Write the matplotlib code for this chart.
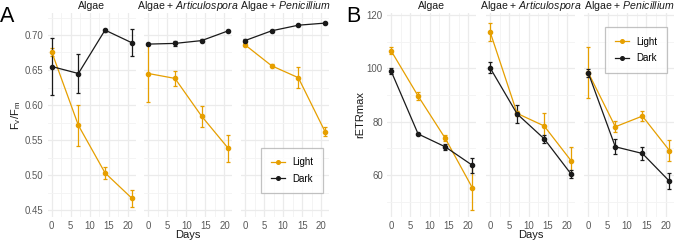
import numpy as np
import matplotlib
matplotlib.use("Agg")
import matplotlib.pyplot as plt
from matplotlib.lines import Line2D

plt.rcParams['font.family'] = ['Liberation Sans', 'DejaVu Sans']
plt.rcParams['mathtext.fontset'] = 'custom'
plt.rcParams['mathtext.rm'] = 'Liberation Sans'
plt.rcParams['mathtext.it'] = 'Liberation Sans:italic'

# data
days = [0, 7, 14, 21]
panels = ["Algae", "Algae + $\\it{Articulospora}$", "Algae + $\\it{Penicillium}$"]

# A: Fv/Fm  (mean, error) per treatment
fv_light = [[0.676, 0.571, 0.503, 0.467],
            [0.645, 0.638, 0.584, 0.538],
            [0.686, 0.656, 0.639, 0.562]]
fv_light_err = [[0.006, 0.029, 0.009, 0.012],
                [0.040, 0.011, 0.015, 0.019],
                [0.002, 0.002, 0.015, 0.007]]
fv_dark = [[0.655, 0.645, 0.707, 0.689],
           [0.687, 0.688, 0.692, 0.706],
           [0.692, 0.706, 0.714, 0.717]]
fv_dark_err = [[0.041, 0.028, 0.002, 0.019],
               [0.001, 0.003, 0.002, 0.001],
               [0.002, 0.001, 0.001, 0.001]]

# B: rETRmax
etr_light = [[106.6, 89.6, 73.8, 55.3],
             [113.7, 83.1, 78.4, 65.3],
             [98.4, 78.1, 82.1, 69.2]]
etr_light_err = [[1.4, 1.6, 1.2, 8.5],
                 [3.4, 1.0, 4.8, 5.3],
                 [9.7, 2.0, 1.8, 4.0]]
etr_dark = [[99.0, 75.4, 70.6, 63.7],
            [100.2, 82.9, 73.6, 60.3],
            [98.3, 70.6, 68.1, 57.7]]
etr_dark_err = [[1.2, 0.5, 1.2, 2.8],
                [2.0, 3.4, 1.5, 1.5],
                [1.5, 2.8, 2.4, 3.0]]

light_col = '#E69F00'
dark_col = '#1a1a1a'
W, H = 677, 241

fig = plt.figure(figsize=(W / 100, H / 100), dpi=100)


def px_axes(left, width, top=13.3, bottom=217):
    return fig.add_axes([left / W, 1 - bottom / H, width / W, (bottom - top) / H])


def draw_group(lefts, width, light, light_err, dark, dark_err, ylim, yticks, yminor, fmt, legend_kw):
    axes = []
    for i, left in enumerate(lefts):
        ax = px_axes(left, width)
        for sp in ax.spines.values():
            sp.set_visible(False)
        ax.set_xlim(-1.05, 22.05)
        ax.set_ylim(*ylim)
        ax.set_xticks([0, 5, 10, 15, 20])
        ax.set_xticks([2.5, 7.5, 12.5, 17.5], minor=True)
        ax.set_yticks(yticks)
        ax.set_yticks(yminor, minor=True)
        ax.grid(which='major', color='#ebebeb', lw=0.9)
        ax.grid(which='minor', color='#f3f3f3', lw=0.6)
        ax.set_axisbelow(True)
        ax.tick_params(which='both', length=0, labelsize=6.9, labelcolor='#595959', pad=3)
        if i == 0:
            ax.set_yticklabels([fmt.format(v) for v in yticks])
        else:
            ax.set_yticklabels([])
        ax.errorbar(days, light[i], yerr=light_err[i], color=light_col, lw=0.9, marker='o', ms=3.0,
                    capsize=1.6, capthick=0.9, elinewidth=0.9)
        ax.errorbar(days, dark[i], yerr=dark_err[i], color=dark_col, lw=0.9, marker='o', ms=3.0,
                    capsize=1.6, capthick=0.9, elinewidth=0.9)
        ax.set_title(panels[i], fontsize=7.6, color='#1a1a1a', pad=3)
        axes.append(ax)
    handles = [Line2D([], [], color=light_col, lw=0.9, marker='o', ms=2.6),
               Line2D([], [], color=dark_col, lw=0.9, marker='o', ms=2.6)]
    leg = axes[2].legend(handles, ['Light', 'Dark'], fontsize=7, frameon=True, fancybox=False,
                         edgecolor='#b3b3b3', handlelength=1.5, handletextpad=0.7, borderpad=1.0,
                         labelspacing=0.65, **legend_kw)
    leg.get_frame().set_linewidth(0.9)
    return axes


axA = draw_group([47.7, 144.3, 241.0], 88.0, fv_light, fv_light_err, fv_dark, fv_dark_err,
                 (0.44, 0.731), [0.45, 0.50, 0.55, 0.60, 0.65, 0.70],
                 [0.475, 0.525, 0.575, 0.625, 0.675, 0.725], '{:.2f}',
                 dict(loc='lower right', bbox_to_anchor=(0.985, 0.092)))
axB = draw_group([387.0, 486.0, 584.2], 89.3, etr_light, etr_light_err, etr_dark, etr_dark_err,
                 (44.3, 120.6), [60, 80, 100, 120], [50, 70, 90, 110], '{:d}',
                 dict(loc='upper right', bbox_to_anchor=(0.98, 0.957)))

fig.text(188.2 / W, 1 - 235 / H, 'Days', ha='center', va='center', fontsize=8, color='#1a1a1a')
fig.text(530.5 / W, 1 - 235 / H, 'Days', ha='center', va='center', fontsize=8, color='#1a1a1a')
fig.text(16 / W, 1 - 115 / H, r'F$_\mathrm{v}$/F$_\mathrm{m}$', rotation=90, ha='center', va='center',
         fontsize=8, color='#1a1a1a')
fig.text(360 / W, 1 - 115 / H, 'rETRmax', rotation=90, ha='center', va='center',
         fontsize=8, color='#1a1a1a')
fig.text(0 / W, 1 - 22 / H, 'A', fontsize=15.5, ha='left', va='baseline')
fig.text(346 / W, 1 - 22 / H, 'B', fontsize=15.5, ha='left', va='baseline')

fig.savefig('out.png', dpi=100)
